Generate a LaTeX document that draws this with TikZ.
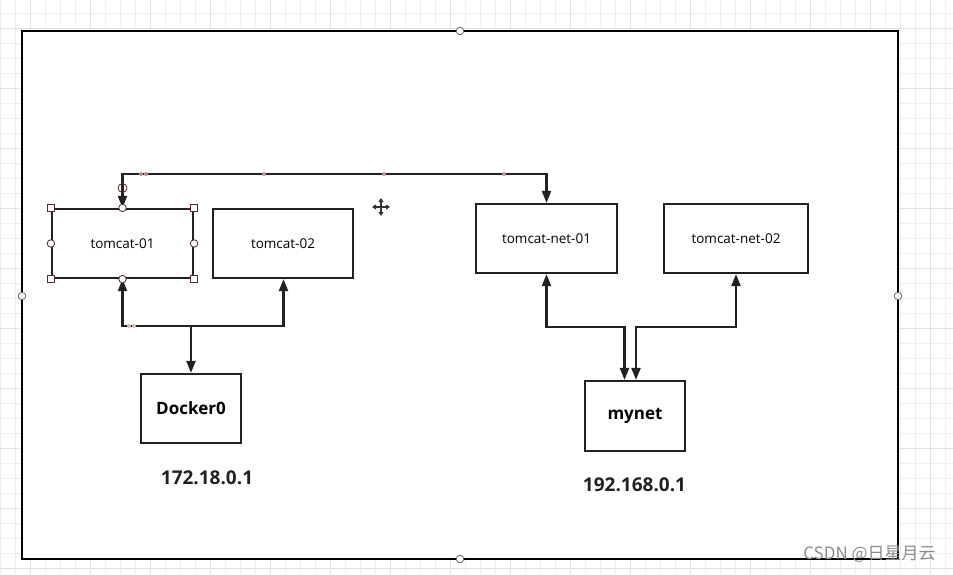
\documentclass[tikz,border=0pt]{standalone}
\usepackage{fontspec}
\setmainfont{Open Sans}
\newfontfamily\cjk{Noto Sans CJK SC}
\usetikzlibrary{arrows.meta}
\definecolor{gridminor}{HTML}{EEEEEE}
\definecolor{gridmajor}{HTML}{E2E2E2}
\definecolor{linec}{HTML}{222222}
\definecolor{handlec}{HTML}{5A2A2A}
\definecolor{dotc}{HTML}{C98A8A}
\begin{document}
\begin{tikzpicture}[x=1pt,y=-1pt,
  box/.style={draw=linec, line width=2.2pt, fill=white, inner sep=0pt,
    font=\fontsize{13.5}{16}\selectfont},
  bbox/.style={box, font=\fontsize{17}{20}\bfseries\selectfont},
  iplabel/.style={font=\fontsize{19}{22}\bfseries\selectfont, text=linec},
  conn/.style={draw=linec, line width=2.2pt},
  tip/.tip={Triangle[width=9pt,length=12pt]},
  hcirc/.style={circle, draw=handlec, fill=white, line width=0.8pt, inner sep=0pt, minimum size=7.5pt},
  hsq/.style={rectangle, draw=handlec, fill=white, line width=0.8pt, inner sep=0pt, minimum size=7pt},
  fcirc/.style={circle, draw=black!60, fill=white, line width=0.8pt, inner sep=0pt, minimum size=7.5pt},
  wpdot/.style={circle, fill=dotc, inner sep=0pt, minimum size=4pt}
]
\useasboundingbox (0,0) rectangle (953,574);
% grid background
\fill[white] (0,0) rectangle (953,574);
\foreach \x in {0,15,...,945} \draw[gridminor, line width=0.8pt] (\x,0) -- (\x,574);
\foreach \y in {13,28,...,573} \draw[gridminor, line width=0.8pt] (0,\y) -- (953,\y);
\foreach \x in {30,90,...,930} \draw[gridmajor, line width=0.9pt] (\x,0) -- (\x,574);
\foreach \y in {28,88,...,573} \draw[gridmajor, line width=0.9pt] (0,\y) -- (953,\y);
% frame
\draw[black, line width=2.4pt, fill=white] (22,31) rectangle (898,559);
% watermark (over frame edge)
\node[font=\cjk\fontsize{17}{20}\selectfont, text=black!45, anchor=center] (wm) at (869.5,554) {CSDN @日星月云};
% boxes
\node[box, minimum width=141pt, minimum height=69pt] (t1) at (122.5,243.5) {tomcat-01};
\node[box, minimum width=140pt, minimum height=69pt] (t2) at (283,243.5) {tomcat-02};
\node[box, minimum width=141pt, minimum height=69pt] (n1) at (546.5,238.5) {tomcat-net-01};
\node[box, minimum width=144pt, minimum height=69pt] (n2) at (736,238.5) {tomcat-net-02};
\node[bbox, minimum width=100pt, minimum height=69pt] (d0) at (191,408.5) {Docker0};
\node[bbox, minimum width=100pt, minimum height=70pt] (mn) at (635,416) {mynet};
\node[iplabel] (ip1) at (207,478) {172.18.0.1};
\node[iplabel] (ip2) at (634.5,485) {192.168.0.1};
% connectors
\coordinate (topL) at (122.5,174);
\coordinate (topR) at (546.5,174);
\draw[conn, tip-tip] (t1.north) -- (topL) -- (topR) -- (n1.north);
\coordinate (dL) at (122.5,326);
\coordinate (dR) at (283.5,326);
\coordinate (dM) at (191,326);
\draw[conn, tip-tip] (t1.south) -- (dL) -- (dR) -- (t2.south -| dR);
\draw[conn, -tip] (dM) -- (d0.north);
\coordinate (mL) at (546.5,327);
\coordinate (mR) at (736,327);
\coordinate (mA) at (624.5,327);
\coordinate (mB) at (636,327);
\draw[conn, tip-tip] (n1.south) -- (mL) -- (mA) -- (mA |- mn.north);
\draw[conn, tip-tip] (n2.south) -- (mR) -- (mB) -- (mB |- mn.north);
% waypoint dots
\node[wpdot] (w1) at (141,174) {};
\node[wpdot] (w2) at (146,174) {};
\node[wpdot] (w3) at (264,174) {};
\node[wpdot] (w4) at (384,174) {};
\node[wpdot] (w5) at (504,174) {};
\node[wpdot, fill=dotc!60] (w6) at (129,326) {};
\node[wpdot, fill=dotc!60] (w7) at (134,326) {};
% selection handles on tomcat-01
\node[hsq] (s1) at (t1.north west) {};
\node[hsq] (s2) at (t1.north east) {};
\node[hsq] (s3) at (t1.south west) {};
\node[hsq] (s4) at (t1.south east) {};
\node[hcirc] (c1) at (t1.north) {};
\node[hcirc] (c2) at (t1.south) {};
\node[hcirc] (c3) at (t1.west) {};
\node[hcirc] (c4) at (t1.east) {};
\node[circle, draw=handlec, line width=0.8pt, inner sep=0pt, minimum width=9pt, minimum height=9pt] (c5) at (122.5,188) {};
% frame handles
\node[fcirc] (f1) at (460,31) {};
\node[fcirc] (f2) at (22,296) {};
\node[fcirc] (f3) at (898,296) {};
\node[fcirc] (f4) at (460,559) {};
% move cursor
\coordinate (cur) at (381,207);
\draw[white, line width=3.5pt] ([xshift=-10pt]cur) -- ([xshift=10pt]cur) ([yshift=-10pt]cur) -- ([yshift=10pt]cur);
\draw[black!80, line width=1.2pt, {Triangle[width=5pt,length=4pt]}-{Triangle[width=5pt,length=4pt]}] ([xshift=-9pt]cur) -- ([xshift=9pt]cur);
\draw[black!80, line width=1.2pt, {Triangle[width=5pt,length=4pt]}-{Triangle[width=5pt,length=4pt]}] ([yshift=-9pt]cur) -- ([yshift=9pt]cur);
\end{tikzpicture}
\end{document}
